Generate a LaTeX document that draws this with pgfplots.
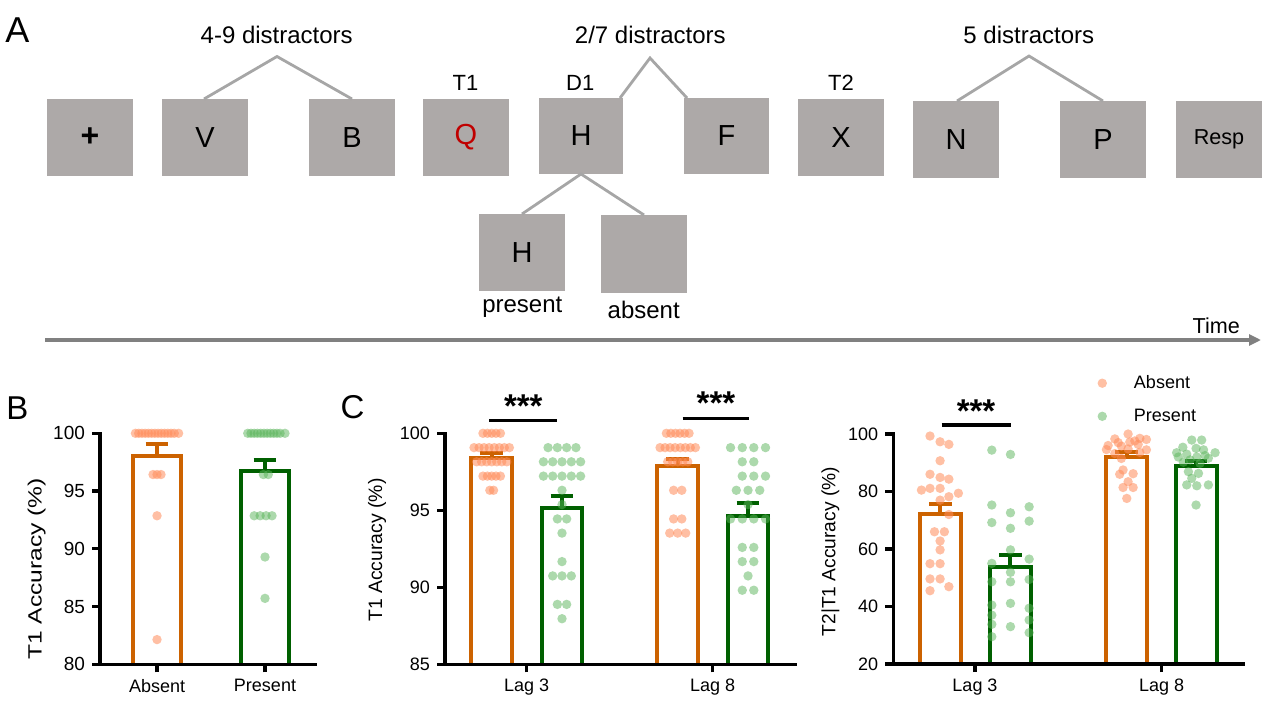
\documentclass[border=0pt]{standalone}
\usepackage{fontspec}
\setmainfont{Liberation Sans}
\usepackage{graphicx}
\usepackage{pgfplots}
\pgfplotsset{compat=1.18}
\usetikzlibrary{arrows.meta}

\definecolor{boxgray}{RGB}{173,169,168}
\definecolor{linegray}{RGB}{166,166,166}
\definecolor{arrowgray}{RGB}{128,128,128}
\definecolor{qred}{RGB}{192,0,0}
\definecolor{barorange}{RGB}{204,98,0}
\definecolor{bargreen}{RGB}{0,96,0}
\definecolor{dotorange}{RGB}{255,140,90}
\definecolor{dotgreen}{RGB}{90,180,90}

\newcommand{\fsz}[1]{\fontsize{#1}{#1}\selectfont}

\pgfplotsset{
  gp/.style={
    scale only axis, clip=false, axis on top,
    axis lines=left,
    axis line style={line width=1.65pt, -, line cap=rect},
    tick style={line width=1.65pt, black},
    tick align=outside, major tick length=4pt,
    xtick={0,1},
    /pgf/number format/assume math mode=true,
    xticklabel style={font=\fsz{9}},
    yticklabel style={font=\fsz{9}},
  },
  barA/.style={draw=barorange, line width=2pt, fill=white, line join=miter, forget plot},
  barP/.style={draw=bargreen, line width=2pt, fill=white, line join=miter, forget plot},
  dotA/.style={only marks, mark=*, mark size=2.35pt, color=dotorange, draw opacity=0,
    mark options={draw opacity=0, fill=dotorange, fill opacity=0.55}},
  dotP/.style={only marks, mark=*, mark size=2.35pt, color=dotgreen, draw opacity=0,
    mark options={draw opacity=0, fill=dotgreen, fill opacity=0.5}},
  errA/.style={draw=none, mark=none, forget plot,
    error bars/.cd, y dir=plus, y explicit, error mark=|,
    error bar style={draw=barorange, line width=2pt},
    error mark options={draw=barorange, line width=2pt, mark size=5.7pt}},
  errP/.style={draw=none, mark=none, forget plot,
    error bars/.cd, y dir=plus, y explicit, error mark=|,
    error bar style={draw=bargreen, line width=2pt},
    error mark options={draw=bargreen, line width=2pt, mark size=5.7pt}},
}

\begin{document}
\begin{tikzpicture}[x=0.5pt,y=-0.5pt]
\useasboundingbox (0,0) rectangle (1268,706);

% ---------- panel A: trial schematic ----------
\node at (17.5,30.5) {\fsz{18}A};
\foreach \xa/\ya/\xb/\yb in {47/99/133/176, 162/99/248/176, 309/99/395/176, 423/99/509/176,
  539/98/623/174, 684/98/769/174, 798/99/884/176, 913/101/999/178, 1060/101/1146/178,
  1176/101/1262/178, 479/214/565/291, 601/215/687/293}
  \fill[boxgray] (\xa,\ya) rectangle (\xb,\yb);
\node at (90,137.5) {\fsz{16}\bfseries +};
\node at (205,137.5) {\fsz{14.5}V};
\node at (352,137.5) {\fsz{14.5}B};
\node at (466,137.5) {\fsz{14.5}\color{qred}Q};
\node at (581,136) {\fsz{14.5}H};
\node at (726.5,136) {\fsz{14.5}F};
\node at (841,137.5) {\fsz{14.5}X};
\node at (956,139.5) {\fsz{14.5}N};
\node at (1103,139.5) {\fsz{14.5}P};
\node at (1219,139.5) {\fsz{10.8}Resp};
\node at (522,252.5) {\fsz{14.5}H};

\draw[linegray, line width=1.4pt] (204,99) -- (277,56.5) -- (352,99);
\draw[linegray, line width=1.4pt] (620,98) -- (650,58) -- (687,98);
\draw[linegray, line width=1.4pt] (957,101) -- (1029,56) -- (1103,101);
\draw[linegray, line width=1.4pt] (522,214) -- (581,174) -- (644,215);

\node at (276.7,35) {\fsz{12}4-9 distractors};
\node at (650.3,35) {\fsz{12}2/7 distractors};
\node at (1028.8,35) {\fsz{12}5 distractors};
\node at (465.5,82.5) {\fsz{11}T1};
\node at (580.3,82.5) {\fsz{11}D1};
\node at (841,82.5) {\fsz{11}T2};
\node at (522.3,307.5) {\fsz{12}present};
\node at (643.7,310) {\fsz{12}absent};
\node at (1216.3,325.7) {\fsz{10.8}Time};
\draw[arrowgray, line width=1.6pt, -{Triangle[length=6pt,width=5.5pt]}] (45,340) -- (1261,340);

% ---------- panel labels, axis titles, significance ----------
\node at (17.5,408) {\fsz{16.5}B};
\node at (352.5,407) {\fsz{16.5}C};
\node[rotate=90] at (36.7,569) {\scalebox{1.28}[1]{\fsz{9.6}T1 Accuracy (\%)}};
\node[rotate=90] at (377,550) {\fsz{9.7}T1 Accuracy (\%)};
\node[rotate=90] at (830.5,551.7) {\fsz{9.6}T2|T1 Accuracy (\%)};

\draw[black, line width=1.65pt] (489.3,420.3) -- (556.7,420.3);
\draw[black, line width=1.65pt] (682.7,418.3) -- (749,418.3);
\draw[black, line width=1.65pt] (941.7,425) -- (1010.7,425);
\node[anchor=base] at (523.3,417) {\fsz{16.5}\bfseries ***};
\node[anchor=base] at (716,414.5) {\fsz{16.5}\bfseries ***};
\node[anchor=base] at (976,422.5) {\fsz{16.5}\bfseries ***};

\coordinate (oB) at (100,664.3);
\coordinate (oC) at (445,664.3);
\coordinate (oD) at (893.3,664);

% ---------- panel B ----------
\begin{axis}[gp, at={(oB)}, anchor=south west, width=107.5pt, height=115.5pt,
  xmin=-0.528, xmax=1.463, ymin=80, ymax=100, ytick={80,85,90,95,100},
  xticklabels={Absent,Present}, yticklabel style={font=\fsz{9.5}}]
\addplot[barA] coordinates {(-0.222,80) (-0.222,98.05) (0.222,98.05) (0.222,80)};
\addplot[barP] coordinates {(0.778,80) (0.778,96.7) (1.222,96.7) (1.222,80)};
\addplot[dotA] coordinates {(-0.2,100) (-0.17,100) (-0.14,100) (-0.11,100) (-0.08,100) (-0.05,100)
  (-0.02,100) (0.01,100) (0.04,100) (0.07,100) (0.1,100) (0.13,100) (0.16,100) (0.2,100)
  (-0.037,96.43) (0,96.43) (0.037,96.43) (0,92.86) (0,82.14)};
\addplot[dotP] coordinates {(0.84,100) (0.87,100) (0.9,100) (0.93,100) (0.96,100) (0.99,100)
  (1.02,100) (1.05,100) (1.08,100) (1.11,100) (1.14,100) (1.185,100)
  (0.985,96.43) (1.03,96.43) (0.9,92.86) (0.955,92.86) (1.01,92.86) (1.065,92.86)
  (1,89.29) (1,85.71)};
\addplot[errA] coordinates {(0,98.05) +- (0,1.0)};
\addplot[errP] coordinates {(1,96.7) +- (0,1.0)};
\end{axis}

% ---------- panel C, T1 accuracy ----------
\begin{axis}[gp, at={(oC)}, anchor=south west, width=175pt, height=115.5pt,
  xmin=-0.439, xmax=1.4425, ymin=85, ymax=100, ytick={85,90,95,100},
  xticklabels={Lag 3,Lag 8}]
\addplot[barA] coordinates {(-0.298,85) (-0.298,98.4) (-0.078,98.4) (-0.078,85)};
\addplot[barP] coordinates {(0.08,85) (0.08,95.15) (0.30,95.15) (0.30,85)};
\addplot[barA] coordinates {(0.702,85) (0.702,97.85) (0.922,97.85) (0.922,85)};
\addplot[barP] coordinates {(1.08,85) (1.08,94.65) (1.30,94.65) (1.30,85)};
\addplot[dotA] coordinates {
  (-0.235,100) (-0.211,100) (-0.188,100) (-0.165,100) (-0.141,100)
  (-0.283,99.07) (-0.256,99.07) (-0.229,99.07) (-0.202,99.07) (-0.174,99.07) (-0.147,99.07) (-0.12,99.07) (-0.093,99.07)
  (-0.269,98.15) (-0.242,98.15) (-0.215,98.15) (-0.188,98.15) (-0.161,98.15) (-0.134,98.15) (-0.107,98.15)
  (-0.235,97.22) (-0.211,97.22) (-0.188,97.22) (-0.165,97.22) (-0.141,97.22)
  (-0.198,96.30) (-0.178,96.30)
  (0.751,100) (0.775,100) (0.8,100) (0.824,100) (0.849,100) (0.873,100)
  (0.717,99.07) (0.744,99.07) (0.771,99.07) (0.798,99.07) (0.826,99.07) (0.853,99.07) (0.88,99.07) (0.907,99.07)
  (0.758,98.15) (0.785,98.15) (0.812,98.15) (0.839,98.15) (0.866,98.15)
  (0.79,96.30) (0.834,96.30) (0.79,94.44) (0.834,94.44)
  (0.769,93.52) (0.812,93.52) (0.855,93.52)};
\addplot[dotP] coordinates {
  (0.115,99.07) (0.165,99.07) (0.215,99.07) (0.265,99.07)
  (0.09,98.15) (0.14,98.15) (0.19,98.15) (0.24,98.15) (0.29,98.15)
  (0.09,97.22) (0.14,97.22) (0.19,97.22) (0.24,97.22) (0.29,97.22)
  (0.19,96.30) (0.19,95.37) (0.165,94.44) (0.215,94.44) (0.19,93.52) (0.19,91.67)
  (0.14,90.74) (0.19,90.74) (0.24,90.74) (0.165,88.89) (0.215,88.89) (0.19,87.96)
  (1.096,99.07) (1.159,99.07) (1.221,99.07) (1.284,99.07)
  (1.159,98.15) (1.221,98.15) (1.159,97.22) (1.221,97.22) (1.284,97.22)
  (1.127,96.30) (1.19,96.30) (1.253,96.30) (1.19,95.37)
  (1.096,94.44) (1.159,94.44) (1.221,94.44) (1.284,94.44)
  (1.159,92.59) (1.221,92.59) (1.159,91.67) (1.221,91.67) (1.19,90.74)
  (1.159,89.81) (1.221,89.81)};
\addplot[errA] coordinates {(-0.188,98.4) +- (0,0.35) (0.812,97.85) +- (0,0.5)};
\addplot[errP] coordinates {(0.19,95.15) +- (0,0.8) (1.19,94.65) +- (0,0.85)};
\end{axis}

% ---------- panel C, T2|T1 accuracy ----------
\begin{axis}[gp, at={(oD)}, anchor=south west, width=174.85pt, height=115pt,
  xmin=-0.4376, xmax=1.4355, ymin=20, ymax=100, ytick={20,40,60,80,100},
  xticklabels={Lag 3,Lag 8},
  legend style={draw=none, fill=none, at={(rel axis cs:0.583,1.275)}, anchor=north west,
    font=\fsz{9}, row sep=4.7pt, inner sep=0pt,
    /tikz/every odd column/.append style={column sep=11.5pt}},
  legend cell align=left]
\addplot[barA] coordinates {(-0.295,20) (-0.295,72.2) (-0.075,72.2) (-0.075,20)};
\addplot[barP] coordinates {(0.08,20) (0.08,53.9) (0.30,53.9) (0.30,20)};
\addplot[barA] coordinates {(0.703,20) (0.703,92.1) (0.923,92.1) (0.923,20)};
\addplot[barP] coordinates {(1.074,20) (1.074,88.9) (1.294,88.9) (1.294,20)};
\addplot[dotA] coordinates {
  (-0.241,99.3) (-0.187,97.3) (-0.140,96.4) (-0.187,90.7) (-0.241,86.0) (-0.187,84.9)
  (-0.140,84.3) (-0.287,80.5) (-0.241,81.1) (-0.187,81.1) (-0.089,79.4) (-0.140,78.2)
  (-0.187,77.0) (-0.140,72.0) (-0.217,66.0) (-0.164,66.0) (-0.187,62.8) (-0.187,59.7)
  (-0.241,54.9) (-0.187,54.9) (-0.241,49.6) (-0.187,49.6) (-0.140,46.9) (-0.241,45.5)
  (0.820,100.0) (0.749,98.3) (0.883,98.5) (0.918,98.1) (0.767,97.0) (0.829,97.2)
  (0.856,97.6) (0.713,96.0) (0.784,95.8) (0.874,96.4) (0.704,94.6) (0.820,94.8)
  (0.918,94.5) (0.749,93.2) (0.883,93.6) (0.784,91.5) (0.793,87.5) (0.775,86.0)
  (0.847,86.2) (0.820,83.4) (0.793,81.4) (0.847,81.4) (0.813,77.6)};
\addlegendentry{Absent}
\addplot[dotP] coordinates {
  (0.09,94.4) (0.19,92.9) (0.09,75.3) (0.29,74.7) (0.19,72.6) (0.09,69.2) (0.29,69.7)
  (0.19,67.2) (0.19,59.7) (0.29,56.5) (0.09,55.0) (0.19,51.9) (0.09,48.6) (0.19,48.6)
  (0.29,49.4) (0.19,41.1) (0.09,40.5) (0.29,39.4) (0.09,37.0) (0.29,35.3) (0.09,33.8)
  (0.19,33.0) (0.29,30.9) (0.09,29.5)
  (1.161,97.9) (1.214,97.9) (1.113,95.4) (1.184,95.0) (1.080,93.5) (1.286,93.5)
  (1.134,93.0) (1.232,92.5) (1.089,92.0) (1.188,92.0) (1.250,91.6) (1.116,90.2)
  (1.205,89.8) (1.143,86.9) (1.197,86.3) (1.161,84.6) (1.134,82.3) (1.188,82.0)
  (1.250,82.3) (1.184,75.3) (1.224,94.5) (1.152,91.0)};
\addlegendentry{Present}
\addplot[errA] coordinates {(-0.185,72.2) +- (0,3.45) (0.813,92.1) +- (0,1.8)};
\addplot[errP] coordinates {(0.19,53.9) +- (0,4.0) (1.184,88.9) +- (0,1.7)};
\end{axis}
\end{tikzpicture}
\end{document}
